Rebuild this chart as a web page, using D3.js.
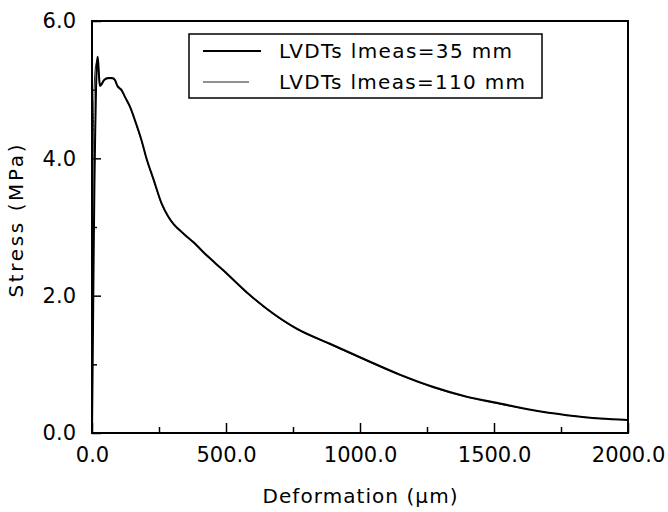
<!DOCTYPE html>
<html>
<head>
<meta charset="utf-8">
<script src="https://cdn.jsdelivr.net/npm/d3@7"></script>
<style>
  body { margin: 0; background: #fff; }
  text { font-family: "DejaVu Sans", sans-serif; fill: #000; }
</style>
</head>
<body>
<div id="chart"></div>
<script>
// LVDT measuring length 35 mm (thick line)
var defo35 = [0, 3, 6, 9, 12, 15, 18, 21, 24, 27, 30, 35, 45, 60, 75, 86, 94, 111, 125, 142, 165, 185, 204, 229, 260, 285, 303, 340, 378, 430, 490, 577, 652, 764, 888, 1025, 1149, 1274, 1398, 1522, 1647, 1771, 1896, 2000];
var stress35 = [0, 1.2, 2.5, 3.6, 4.4, 5.0, 5.35, 5.48, 5.35, 5.15, 5.06, 5.08, 5.14, 5.17, 5.17, 5.14, 5.06, 4.99, 4.88, 4.75, 4.5, 4.26, 3.99, 3.7, 3.34, 3.15, 3.05, 2.91, 2.78, 2.58, 2.37, 2.05, 1.81, 1.52, 1.3, 1.06, 0.85, 0.67, 0.53, 0.43, 0.33, 0.26, 0.21, 0.19];

// LVDT measuring length 110 mm (thin line)
var defo110 = [0, 1, 3, 5, 8, 12, 18, 21, 25, 29, 33, 45, 60, 75, 86, 94, 111, 125, 142, 165, 185, 204, 229, 260, 285, 303, 340, 378, 430, 490, 577, 652, 764, 888, 1025, 1149, 1274, 1398, 1522, 1647, 1771, 1896, 2000];
var stress110 = [0, 1.5, 3.2, 4.3, 5.0, 5.3, 5.42, 5.45, 5.25, 5.05, 5.05, 5.13, 5.16, 5.16, 5.13, 5.05, 4.98, 4.87, 4.74, 4.49, 4.25, 3.98, 3.69, 3.33, 3.14, 3.04, 2.9, 2.77, 2.57, 2.36, 2.04, 1.8, 1.51, 1.29, 1.05, 0.84, 0.66, 0.52, 0.42, 0.33, 0.26, 0.21, 0.19];

var xMajor = [0, 500, 1000, 1500, 2000];
var xMinor = [250, 750, 1250, 1750];
var yMajor = [0, 2, 4, 6];
var yMinor = [1, 3, 5];

var legendLabels = ['LVDTs lmeas=35 mm', 'LVDTs lmeas=110 mm'];

var width = 668;
var height = 512;
var plotLeft = 92, plotRight = 628, plotTop = 21, plotBottom = 433;

var svg = d3.select('#chart')
    .append('svg')
    .attr('width', width)
    .attr('height', height);

var x = d3.scaleLinear().domain([0, 2000]).range([plotLeft, plotRight]);
var y = d3.scaleLinear().domain([0, 6]).range([plotBottom, plotTop]);

var fmt = d3.format('.1f');

// minor ticks first
svg.append('g')
    .attr('transform', 'translate(0,' + plotBottom + ')')
    .call(d3.axisBottom(x).tickValues(xMinor).tickSize(-6).tickFormat(''))
    .call(g => g.select('.domain').remove());
svg.append('g')
    .attr('transform', 'translate(' + plotLeft + ',0)')
    .call(d3.axisLeft(y).tickValues(yMinor).tickSize(-5).tickFormat(''))
    .call(g => g.select('.domain').remove());

var xAxis = svg.append('g')
    .attr('transform', 'translate(0,' + plotBottom + ')')
    .call(d3.axisBottom(x).tickValues(xMajor).tickSize(-10).tickPadding(14).tickFormat(fmt));
xAxis.select('.domain').remove();

var yAxis = svg.append('g')
    .attr('transform', 'translate(' + plotLeft + ',0)')
    .call(d3.axisLeft(y).tickValues(yMajor).tickSize(-9).tickPadding(16).tickFormat(fmt));
yAxis.select('.domain').remove();

svg.selectAll('.tick line').attr('stroke', '#000').attr('stroke-width', 1.5);
svg.selectAll('.tick text')
    .style('font-family', '"DejaVu Sans", sans-serif')
    .style('font-size', '21px')
    .attr('fill', '#000');

// curves
var line = d3.line()
    .curve(d3.curveMonotoneX)
    .x(d => x(d[0]))
    .y(d => y(d[1]));

svg.append('path')
    .datum(d3.zip(defo110, stress110))
    .attr('d', line)
    .attr('fill', 'none')
    .attr('stroke', '#222')
    .attr('stroke-width', 1);

svg.append('path')
    .datum(d3.zip(defo35, stress35))
    .attr('d', line)
    .attr('fill', 'none')
    .attr('stroke', '#000')
    .attr('stroke-width', 2);

// frame
svg.append('rect')
    .attr('x', plotLeft)
    .attr('y', plotTop)
    .attr('width', plotRight - plotLeft)
    .attr('height', plotBottom - plotTop)
    .attr('fill', 'none')
    .attr('stroke', '#000')
    .attr('stroke-width', 2);

// axis titles
svg.append('text')
    .attr('x', (plotLeft + plotRight) / 2)
    .attr('y', 503)
    .attr('text-anchor', 'middle')
    .attr('textLength', 195)
    .style('font-size', '20px')
    .text('Deformation (\u00b5m)');

svg.append('text')
    .attr('transform', 'translate(23,221) rotate(-90)')
    .attr('text-anchor', 'middle')
    .attr('textLength', 153)
    .style('font-size', '20px')
    .text('Stress (MPa)');

// legend
svg.append('rect')
    .attr('x', 189)
    .attr('y', 34)
    .attr('width', 542 - 189)
    .attr('height', 98 - 34)
    .attr('fill', '#fff')
    .attr('stroke', '#000')
    .attr('stroke-width', 1.5);

var legendRows = [
    { y: 51, x2: 261, stroke: '#000', sw: 2, len: 233 },
    { y: 82, x2: 249, stroke: '#222', sw: 1, len: 246 }
];
legendRows.forEach(function (r, i) {
    svg.append('line')
        .attr('x1', 203).attr('x2', r.x2)
        .attr('y1', r.y).attr('y2', r.y)
        .attr('stroke', r.stroke)
        .attr('stroke-width', r.sw);
    svg.append('text')
        .attr('x', 279)
        .attr('y', r.y + 7)
        .attr('textLength', r.len)
        .style('font-size', '20px')
        .text(legendLabels[i]);
});
</script>
</body>
</html>
